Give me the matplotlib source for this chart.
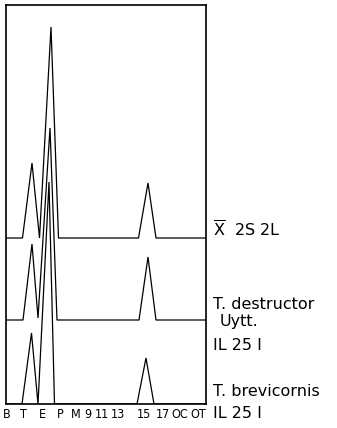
import matplotlib
matplotlib.use("Agg")
import matplotlib.pyplot as plt

# Tick categories along the horizontal axis and where they sit
tick_labels = ["B", "T", "E", "P", "M", "9", "11", "13", "15", "17", "OC", "OT"]
tick_pos = [1, 17, 36, 54, 70, 82, 96, 112, 138, 157, 174, 192]

# Vertices of each profile (x position, height above its own baseline)
mean_x = [0, 16.5, 26, 33.5, 45, 52.5, 132.5, 142, 150, 200]
mean_y = [0, 0, 75, 0, 211, 0, 0, 55, 0, 0]

destructor_x = [0, 17, 26, 32, 44, 51, 133, 142, 150, 200]
destructor_y = [0, 0, 76, 2, 192, 0, 0, 63, 0, 0]

brevicornis_x = [0, 16, 25.5, 32, 43, 48.5, 131, 140, 148, 200]
brevicornis_y = [0, 0, 71, 0, 222, 0, 0, 46, 0, 0]

# Vertical stacking offsets of the three profiles
offsets = {"mean": 166, "destructor": 84, "brevicornis": 0}

W, H = 337, 428
fig = plt.figure(figsize=(W / 100, H / 100), dpi=100)
ax = fig.add_axes([6 / W, 24 / H, 200 / W, 399 / H])

lw = 0.9
for xs, ys, off in [
    (mean_x, mean_y, offsets["mean"]),
    (destructor_x, destructor_y, offsets["destructor"]),
    (brevicornis_x, brevicornis_y, offsets["brevicornis"]),
]:
    ax.plot(xs, [v + off for v in ys], color="black", lw=lw, solid_joinstyle="miter")

ax.set_xlim(0, 200)
ax.set_ylim(0, 399)
ax.set_yticks([])
ax.set_xticks(tick_pos)
ax.set_xticklabels(tick_labels, family="DejaVu Sans", fontstretch="condensed",
                   fontsize=9)
ax.tick_params(axis="x", length=0, pad=3)
for s in ax.spines.values():
    s.set_linewidth(1.2)
    s.set_color("black")

plt.rcParams["mathtext.fontset"] = "dejavusans"


def label(x, y, s, size=11.5):
    fig.text(x / W, (H - y) / H, s, fontsize=size, family="DejaVu Sans",
             ha="left", va="baseline", color="black")


label(213, 237, r"$\overline{\mathrm{X}}$  2S 2L")
label(213, 309, "T. destructor")
label(220, 326, "Uytt.")
label(213, 350, "IL 25 I")
label(213, 396, "T. brevicornis")
label(213, 418, "IL 25 I")

fig.savefig("out.png", dpi=100)
